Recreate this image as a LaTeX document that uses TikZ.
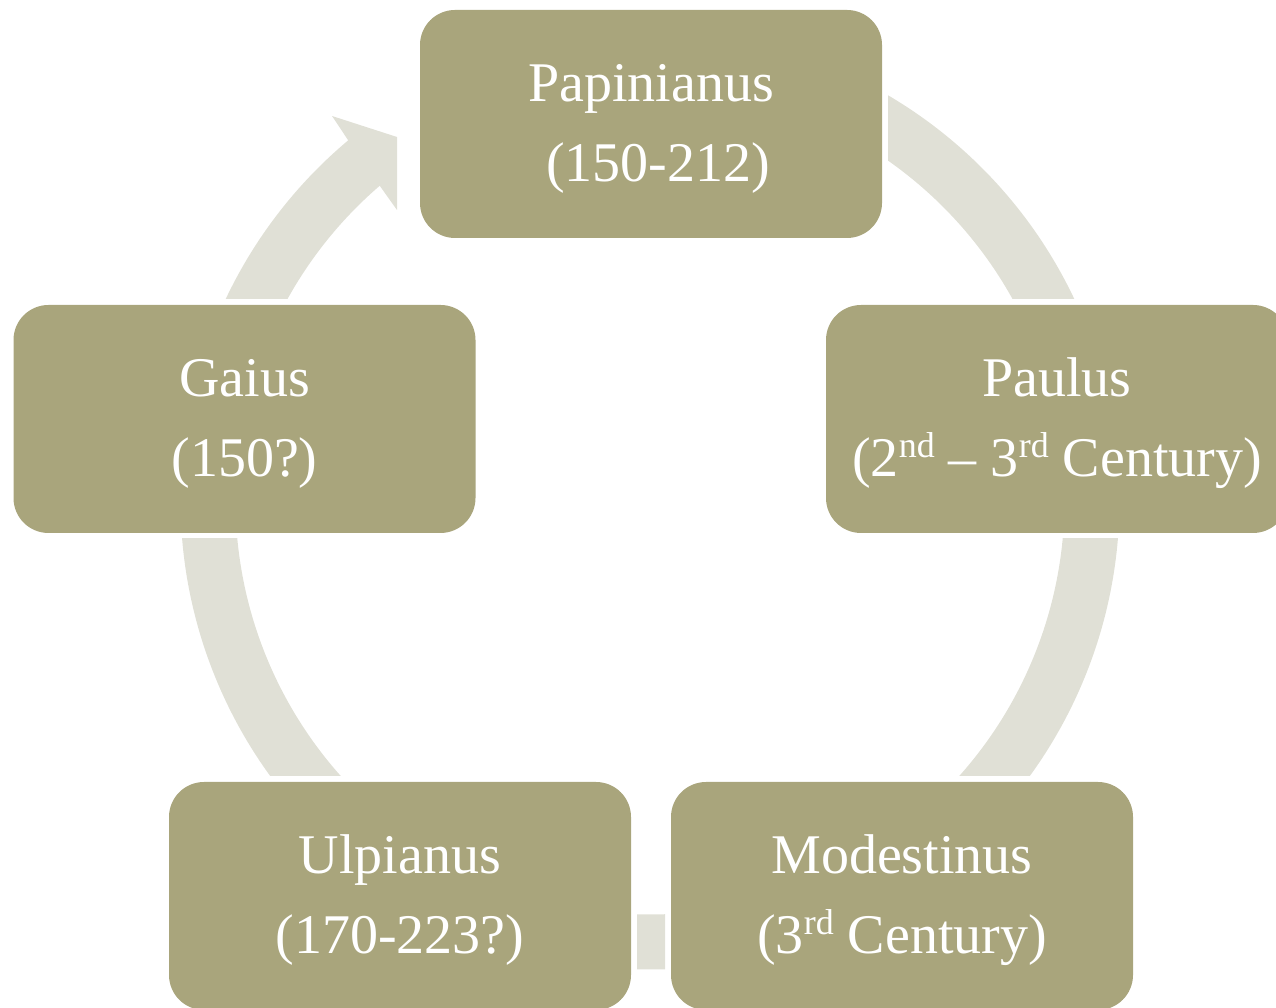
\documentclass[tikz,border=0pt]{standalone}
\usepackage{fontspec}
\setmainfont{Liberation Serif}
\usetikzlibrary{positioning}
\definecolor{boxolive}{HTML}{A9A57C}
\definecolor{ringgray}{HTML}{E0E0D6}
\newcommand{\ordsup}[1]{\raisebox{0.33em}{\fontsize{36}{36}\selectfont #1}}
\newcommand{\toprule}{\rule{0pt}{47pt}}

\begin{document}
\begin{tikzpicture}[x=1pt, y=1pt,
    jurist/.style={fill=boxolive, rounded corners=35pt, minimum width=462pt,
      minimum height=228pt, inner sep=0pt, text=white, align=center,
      font=\fontsize{56}{80}\selectfont},
    ring/.style={draw=ringgray, line width=55pt}]
    \useasboundingbox (0,0) rectangle (1276,1008);
    \coordinate (hub) at (650,508);

    % ring pieces between the boxes
    \begin{scope}
      \clip (888,709) rectangle (1276,1008);
      \draw[ring] ([shift={(70:442)}]hub) arc[start angle=70, end angle=15, radius=442];
    \end{scope}
    \begin{scope}
      \clip (700,232) rectangle (1276,469);
      \draw[ring] ([shift={(5:442)}]hub) arc[start angle=5, end angle=-50, radius=442];
    \end{scope}
    \begin{scope}
      \clip (637,0) rectangle (665,300);
      \draw[ring] ([shift={(-80:442)}]hub) arc[start angle=-80, end angle=-100, radius=442];
    \end{scope}
    \begin{scope}
      \clip (0,232) rectangle (600,469);
      \draw[ring] ([shift={(-130:442)}]hub) arc[start angle=-130, end angle=-185, radius=442];
    \end{scope}
    \begin{scope}
      \clip (0,709) rectangle (640,1008);
      \fill[ringgray] ([shift={(175:414.5)}]hub) arc[start angle=175, end angle=130.7, radius=414.5]
        -- (397,798) -- (397,871) -- (332,892) -- ([shift={(130:469.5)}]hub)
        arc[start angle=130, end angle=175, radius=469.5] -- cycle;
    \end{scope}

    % the five jurists
    \node[jurist] (papinianus) at (651,884) {\toprule Papinianus\\\hspace*{0.25em}(150-212)};
    \node[jurist] (paulus) at (1057,589) {\toprule Paulus\\(2\ordsup{nd} -- 3\ordsup{rd} Century)};
    \node[jurist] (modestinus) at (902,112) {\toprule Modestinus\\(3\ordsup{rd} Century)};
    \node[jurist] (ulpianus) at (400,112) {\toprule Ulpianus\\(170-223?)};
    \node[jurist] (gaius) at (244.5,589) {\toprule Gaius\\(150?)};

\end{tikzpicture}
\end{document}
